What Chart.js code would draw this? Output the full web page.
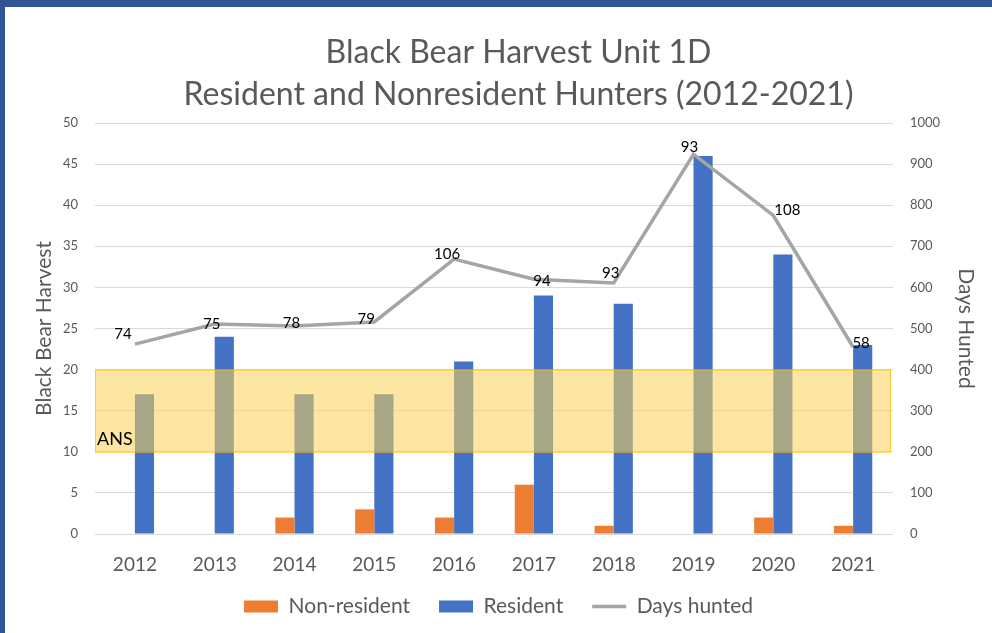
<!DOCTYPE html>
<html>
<head>
<meta charset="utf-8">
<script src="https://cdn.jsdelivr.net/npm/chart.js@4.4.1/dist/chart.umd.min.js"></script>
<style>
  body { margin: 0; background: #fff; }
  #frame {
    width: 987px;
    height: 626px;
    border-top: 7px solid #2f5597;
    border-left: 5px solid #2f5597;
  }
</style>
</head>
<body>
<div id="frame"><canvas id="bearChart" width="987" height="626"></canvas></div>
<script>
// data
var years = ["2012", "2013", "2014", "2015", "2016", "2017", "2018", "2019", "2020", "2021"];
var nonResident = [0, 0, 2, 3, 2, 6, 1, 0, 2, 1];
var resident = [17, 24, 17, 17, 21, 29, 28, 46, 34, 23];
var daysHunted = [462, 511, 506, 516, 669, 620, 611, 924, 775, 455];
var pointLabels = ["74", "75", "78", "79", "106", "94", "93", "93", "108", "58"];
var ansLow = 10;
var ansHigh = 20;

var FONT = "Lato, 'Open Sans', sans-serif";
var GRAY = "#595959";

// ANS band + the labels next to the line points
const overlayPlugin = {
  id: "overlay",
  afterLayout(chart) {
    // title sits a bit right of centre in the original
    chart.titleBlock.left += 20;
    chart.titleBlock.right += 20;
    // let the year labels hang below the squeezed x axis box
    chart.scales.x.bottom += 20;
  },
  afterDatasetsDraw(chart) {
    const ctx = chart.ctx;
    const area = chart.chartArea;
    const y = chart.scales.y;
    const top = y.getPixelForValue(ansHigh);
    const bottom = y.getPixelForValue(ansLow);

    ctx.save();
    ctx.fillStyle = "rgba(251, 210, 84, 0.55)";
    ctx.fillRect(area.left, top, area.right - area.left - 2, bottom - top);
    ctx.strokeStyle = "rgba(255, 192, 0, 0.7)";
    ctx.lineWidth = 1;
    ctx.strokeRect(area.left + 0.5, top + 0.5, area.right - area.left - 3, bottom - top);

    ctx.fillStyle = "#000";
    ctx.font = "18px " + FONT;
    ctx.textAlign = "left";
    ctx.textBaseline = "alphabetic";
    ctx.fillText("ANS", area.left + 2, bottom - 7);

    // label offsets from the point
    const dx = [-12, -3, -3, -8, -7, 8, -3, -4, 14, 8];
    const dy = [-10, 0, -3, -3, -5, 2, -10, -7, -5, -4];
    const meta = chart.getDatasetMeta(2);
    ctx.font = "15px " + FONT;
    ctx.textAlign = "center";
    ctx.textBaseline = "middle";
    meta.data.forEach(function (pt, i) {
      ctx.fillText(pointLabels[i], pt.x + dx[i], pt.y + dy[i]);
    });
    ctx.restore();
  },
};

const ctx = document.getElementById("bearChart");
new Chart(ctx, {
  type: "bar",
  data: {
    labels: years,
    datasets: [
      {
        label: "Non-resident",
        data: nonResident,
        backgroundColor: "#ed7d31",
        yAxisID: "y",
      },
      {
        label: "Resident",
        data: resident,
        backgroundColor: "#4472c4",
        yAxisID: "y",
      },
      {
        type: "line",
        label: "Days hunted",
        data: daysHunted,
        borderColor: "#a5a5a5",
        backgroundColor: "#a5a5a5",
        borderWidth: 3.5,
        pointRadius: 0,
        tension: 0,
        fill: false,
        yAxisID: "y1",
        order: -1,
      },
    ],
  },
  options: {
    responsive: false,
    animation: false,
    categoryPercentage: 0.48,
    barPercentage: 1,
    layout: { padding: { left: 0, right: 0, top: 0, bottom: 6 } },
    plugins: {
      title: {
        display: true,
        text: ["Black Bear Harvest Unit 1D", "Resident and Nonresident Hunters (2012-2021)"],
        color: GRAY,
        font: { family: FONT, size: 32, weight: "normal", lineHeight: 1.3125 },
        padding: { top: 25, bottom: 7 },
      },
      legend: {
        position: "bottom",
        labels: {
          color: GRAY,
          font: { family: FONT, size: 21 },
          usePointStyle: true,
          pointStyleWidth: 34,
          boxHeight: 12,
          padding: 29,
          sort: function (a, b) {
            return a.datasetIndex - b.datasetIndex;
          },
          generateLabels: function (chart) {
            var items = Chart.defaults.plugins.legend.labels.generateLabels(chart);
            items.forEach(function (item) {
              item.pointStyle = item.datasetIndex === 2 ? "line" : "rect";
              if (item.datasetIndex === 2) item.lineWidth = 3.5;
            });
            return items;
          },
        },
      },
      tooltip: { enabled: false },
    },
    scales: {
      x: {
        grid: { display: false },
        border: { display: false },
        ticks: { color: GRAY, font: { family: FONT, size: 19 }, padding: 11 },
        afterFit: function (scale) {
          scale.height = 33;
        },
      },
      y: {
        position: "left",
        min: 0,
        max: 50,
        ticks: { stepSize: 5, color: GRAY, font: { family: FONT, size: 13 }, padding: 17 },
        grid: { color: "#d9d9d9", drawTicks: false },
        border: { display: false },
        title: {
          display: true,
          text: "Black Bear Harvest",
          color: GRAY,
          font: { family: FONT, size: 21 },
          padding: { top: 27, bottom: 0 },
        },
        afterFit: function (scale) {
          scale.width = 90;
        },
      },
      y1: {
        position: "right",
        min: 0,
        max: 1000,
        ticks: {
          stepSize: 100,
          color: GRAY,
          font: { family: FONT, size: 13 },
          padding: 17,
          callback: function (value) {
            return String(value);
          },
        },
        grid: { display: false, drawTicks: false },
        border: { display: false },
        title: {
          display: true,
          text: "Days Hunted",
          color: GRAY,
          font: { family: FONT, size: 21 },
          padding: { top: 14, bottom: 0 },
        },
        afterFit: function (scale) {
          scale.width = 99;
        },
      },
    },
  },
  plugins: [overlayPlugin],
});
</script>
</body>
</html>
